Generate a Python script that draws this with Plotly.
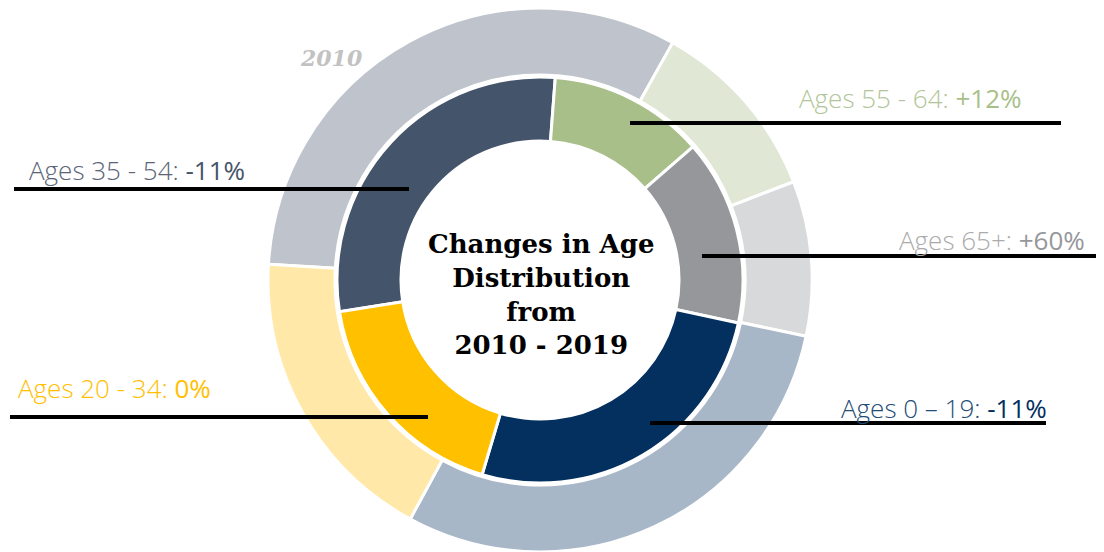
import plotly.graph_objects as go

W, H = 1104, 552

# data (share of population, %)
age_groups = ["Ages 35 - 54", "Ages 55 - 64", "Ages 65+", "Ages 0 – 19", "Ages 20 - 34"]
share_2010 = [32.2, 11.0, 9.2, 29.6, 18.0]
share_2019 = [28.7, 12.4, 14.8, 26.2, 17.9]
change_text = ["-11%", "+12%", "+60%", "-11%", "0%"]

colors_2010 = ["#BEC3CC", "#E0E8D5", "#D8D9DB", "#A8B7C8", "#FFE8A8"]
colors_2019 = ["#44546A", "#A9BF8A", "#96979B", "#03305E", "#FFC000"]
label_colors = ["#5B6577", "#B2C59A", "#ABABAB", "#1F4E79", "#FFC000"]
value_colors = ["#44546A", "#A9BF8A", "#96979B", "#03305E", "#FFC000"]

# page body adds an 8px offset, so screen positions are shifted back by it
OFF = 8
cx, cy = 540 - OFF, 280 - OFF


def px_x(x):
    return (x - OFF) / W


def px_y(y):
    return 1 - (y - OFF) / H


def domain(r):
    return dict(
        x=[max(0, (cx - r) / W), min(1, (cx + r) / W)],
        y=[max(0, 1 - (cy + r) / H), min(1, 1 - (cy - r) / H)],
    )


fig = go.Figure()

fig.add_trace(
    go.Pie(
        labels=age_groups,
        values=share_2010,
        name="2010",
        hole=205 / 272,
        domain=domain(272),
        rotation=273.3,
        direction="clockwise",
        sort=False,
        textinfo="none",
        marker=dict(colors=colors_2010, line=dict(color="white", width=3)),
        showlegend=False,
    )
)

fig.add_trace(
    go.Pie(
        labels=age_groups,
        values=share_2019,
        name="2019",
        hole=139 / 203,
        domain=domain(203),
        rotation=261,
        direction="clockwise",
        sort=False,
        textinfo="none",
        marker=dict(colors=colors_2019, line=dict(color="white", width=3)),
        showlegend=False,
    )
)

# label placement: text left edge / middle, leader line x0, x1, y (screen pixels)
label_pos = [(27, 170), (797, 98), (897, 240), (839, 408), (16, 388)]
leader = [(14, 409, 189), (630, 1061, 123), (702, 1110, 256), (650, 1046, 423), (10, 428, 417)]

for i, grp in enumerate(age_groups):
    tx, ty = label_pos[i]
    fig.add_annotation(
        x=px_x(tx),
        y=px_y(ty),
        xref="paper",
        yref="paper",
        xanchor="left",
        yanchor="middle",
        showarrow=False,
        text=f"{grp}: <span style='color:{value_colors[i]};font-weight:400'>{change_text[i]}</span>",
        font=dict(family="Open Sans", size=26, color=label_colors[i], weight=300),
    )
    x0, x1, ly = leader[i]
    fig.add_shape(
        type="line",
        xref="paper",
        yref="paper",
        x0=px_x(x0),
        x1=px_x(x1),
        y0=px_y(ly),
        y1=px_y(ly),
        line=dict(color="black", width=4),
    )

fig.add_annotation(
    x=px_x(541),
    y=px_y(294),
    xref="paper",
    yref="paper",
    xanchor="center",
    yanchor="middle",
    showarrow=False,
    text="Changes in Age<br>Distribution<br>from<br>2010 - 2019",
    font=dict(family="DejaVu Serif", size=26, color="black", weight="bold"),
)

fig.add_annotation(
    x=px_x(331),
    y=px_y(58),
    xref="paper",
    yref="paper",
    xanchor="center",
    yanchor="middle",
    showarrow=False,
    text="2010",
    font=dict(family="DejaVu Serif", size=22, color="#C2C2C2", weight="bold", style="italic"),
)

fig.update_layout(
    width=W,
    height=H,
    margin=dict(l=0, r=0, t=0, b=0),
    paper_bgcolor="white",
    plot_bgcolor="white",
)

fig.write_html("out.html")
